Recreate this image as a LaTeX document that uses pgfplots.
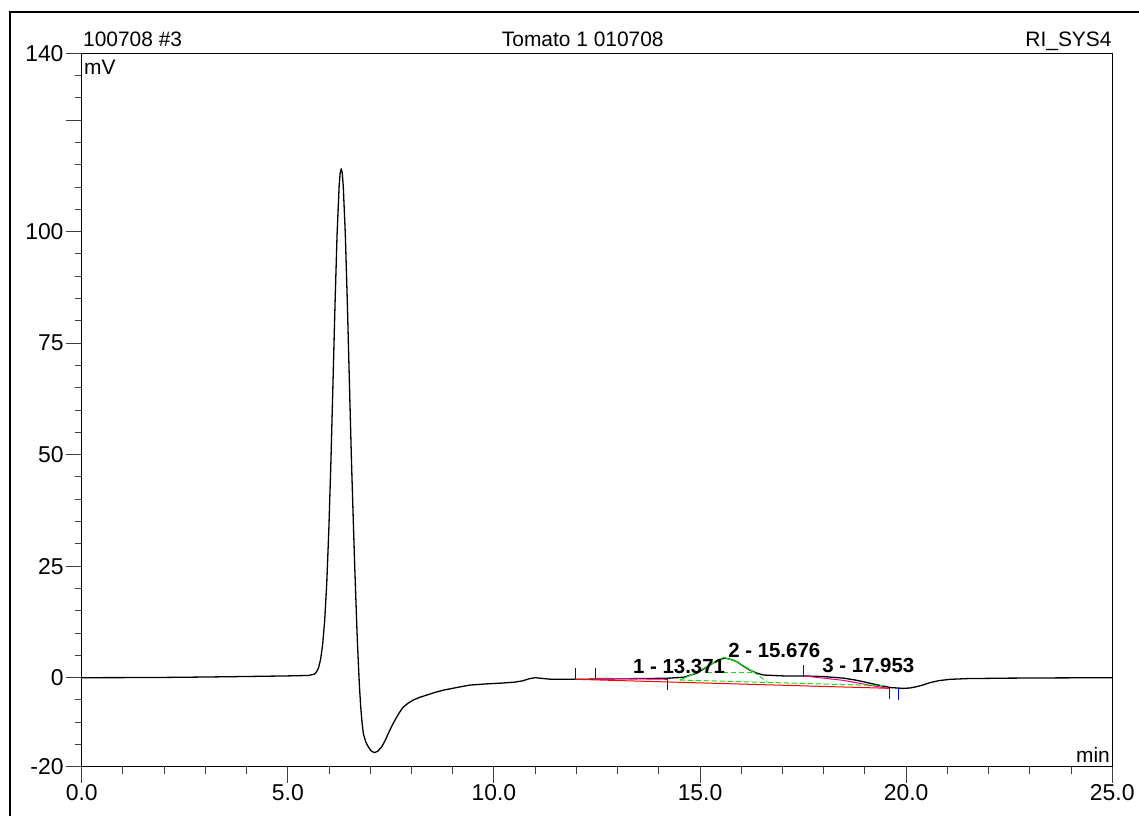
\documentclass[border=0pt]{standalone}
\usepackage{fontspec}
\setmainfont{Liberation Sans}
\usepackage{pgfplots}
\pgfplotsset{compat=1.18}
\definecolor{lime}{RGB}{20,225,20}
\begin{document}
\begin{tikzpicture}[x=1bp,y=1bp,font=\fontsize{21}{25}\selectfont]
\useasboundingbox (0,0) rectangle (1139,816);
\draw[line width=2.5bp] (10,0) -- (10,804) -- (1139,804);
\begin{axis}[
  at={(81.7bp,49.1bp)}, anchor=south west,
  scale only axis, width=1030.6bp, height=713.6bp,
  xmin=0, xmax=25, ymin=-20, ymax=140,
  xtick={0,5,10,15,20,25},
  xticklabels={0.0,5.0,10.0,15.0,20.0,25.0},
  minor xtick={1,2,3,4,6,7,8,9,11,12,13,14,16,17,18,19,21,22,23,24},
  ytick={-20,0,25,50,75,100,125,140},
  yticklabels={-20,0,25,50,75,100,,140},
  minor ytick={-15,-10,-5,5,10,15,20,30,35,40,45,55,60,65,70,80,85,90,95,105,110,115,120,130,135},
  tick align=outside,
  xtick pos=bottom, ytick pos=left,
  major tick length=16bp, minor tick length=7bp,
  tick style={black!75, line width=1bp},
  axis line style={black, line width=1bp},
  tick label style={font=\fontsize{23}{27}\selectfont},
  xticklabel style={anchor=north, yshift=-1bp, inner sep=0pt},
  yticklabel style={anchor=east, xshift=-2bp, inner sep=0pt},
  clip=false,
]
% chromatogram
\addplot[black, line width=1.3bp, line join=round] coordinates {
(0,0) (1,0.02) (2,0.06) (3,0.15) (4,0.27) (5,0.4) (5.5,0.5) (5.645,0.8) (5.695,1.3)
(5.745,2.2) (5.795,4.1) (5.845,7.4) (5.895,12.9) (5.945,21.3) (5.995,33.2) (6.045,48.3)
(6.095,65.8) (6.145,83.7) (6.195,99.4) (6.245,110.2) (6.27,113.2) (6.295,114.1) (6.32,113.2) (6.345,110.2)
(6.395,99.4) (6.445,83.7) (6.495,65.8) (6.545,48.3) (6.595,33.2) (6.625,24.5) (6.655,16.5)
(6.686,8.45) (6.71,3.5) (6.735,-1.5) (6.768,-6.5) (6.80,-10) (6.832,-12.5) (6.89,-14.4)
(6.953,-15.5) (7.02,-16.4) (7.098,-16.8) (7.18,-16.5) (7.278,-15.5) (7.36,-14.1) (7.438,-12.5)
(7.52,-10.9) (7.60,-9.5) (7.70,-7.9) (7.80,-6.6) (7.92,-5.7) (8.045,-5.0) (8.2,-4.4) (8.37,-3.9)
(8.57,-3.3) (8.77,-2.8) (9.1,-2.2) (9.42,-1.65) (9.8,-1.4) (10.2,-1.2) (10.5,-1.0) (10.7,-0.7)
(10.85,-0.25) (11.0,0.0) (11.15,-0.15) (11.4,-0.36) (12.0,-0.36) (13.0,-0.25) (14.19,-0.13)
(14.6,0.1) (14.92,1.0) (15.24,2.85) (15.45,4.0) (15.6,4.4) (15.75,4.1) (15.89,3.6) (16.05,2.6)
(16.21,1.7) (16.38,1.0) (16.54,0.6) (17.02,0.4) (17.5,0.4) (18.0,0.25) (18.48,-0.1) (18.75,-0.5)
(18.96,-0.9) (19.29,-1.6) (19.61,-2.2) (19.93,-2.4) (20.1,-2.3) (20.26,-2.0) (20.42,-1.6)
(20.58,-1.1) (20.8,-0.65) (21.07,-0.36) (21.5,-0.2) (22.5,-0.1) (23.5,-0.05) (25,0)
};
% integration baseline
\addplot[red, line width=1bp] coordinates {(11.97,-0.36) (19.59,-2.38)};
\addplot[magenta, line width=1bp] coordinates {(12.47,-0.13) (14.21,-0.36)};
\addplot[magenta, line width=1bp] coordinates {(17.51,0.4) (18.48,-0.6) (19.53,-2.38)};
% deconvolution (green)
\addplot[lime, line width=1bp] coordinates {(14.51,-0.52) (14.84,0.83) (15.16,2.47) (15.57,4.57) (15.89,3.6) (16.29,1.35)};
\addplot[lime, line width=1bp, dash pattern=on 5bp off 3bp] coordinates {(16.29,1.35) (16.62,-0.9)};
\addplot[lime, line width=1bp, dash pattern=on 5bp off 3bp] coordinates {(15.16,1.12) (16.29,1.12)};
\addplot[lime, line width=1bp, dash pattern=on 5bp off 3bp] coordinates {(14.51,-0.52) (19.45,-1.79)};
% peak delimiters
\addplot[blue, line width=1bp] coordinates {(11.97,-0.36) (11.97,2.1)};
\addplot[blue, line width=1bp] coordinates {(12.47,-0.1) (12.47,2.25)};
\addplot[blue, line width=1bp] coordinates {(14.21,-0.36) (14.21,-2.76)};
\addplot[blue, line width=1bp] coordinates {(17.51,0.2) (17.51,2.85)};
\addplot[blue, line width=1bp] coordinates {(19.59,-2.4) (19.59,-4.85)};
\addplot[blue, line width=1bp] coordinates {(19.81,-2.4) (19.81,-5.0)};
% peak labels
\node[anchor=west, inner sep=0pt, font=\fontsize{20.5}{24}\selectfont\bfseries] at (axis cs:13.37,2.6) {1 - 13.371};
\node[anchor=west, inner sep=0pt, font=\fontsize{20.5}{24}\selectfont\bfseries] at (axis cs:15.68,6.2) {2 - 15.676};
\node[anchor=west, inner sep=0pt, font=\fontsize{20.5}{24}\selectfont\bfseries] at (axis cs:17.96,2.75) {3 - 17.953};
\end{axis}
\node[anchor=base west, inner sep=0pt] at (83,769.3) {100708 \#3};
\node[anchor=base west, inner sep=0pt] at (501.7,769.3) {Tomato 1 010708};
\node[anchor=base east, inner sep=0pt] at (1111.7,769.3) {RI\_SYS4};
\node[anchor=base west, inner sep=0pt] at (84,741) {mV};
\node[anchor=base east, inner sep=0pt] at (1110,53.3) {min};
\end{tikzpicture}
\end{document}
